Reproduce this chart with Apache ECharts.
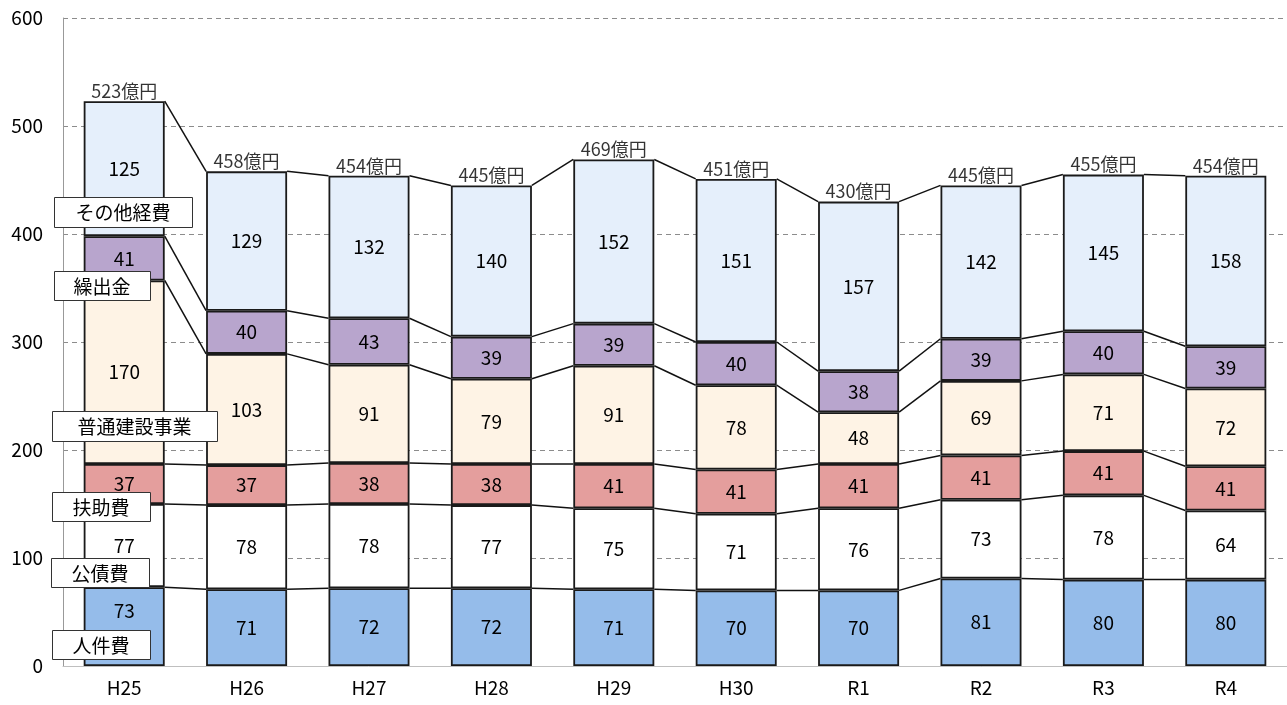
<!DOCTYPE html>
<html>
<head>
<meta charset="utf-8">
<script src="https://cdn.jsdelivr.net/npm/echarts@6/dist/echarts.min.js"></script>
<style>
  html, body { margin: 0; padding: 0; background: #fff; }
  #main { width: 1287px; height: 705px; }
</style>
</head>
<body>
<div id="main"></div>
<script>
var years = ['H25', 'H26', 'H27', 'H28', 'H29', 'H30', 'R1', 'R2', 'R3', 'R4'];
var names = ['人件費', '公債費', '扶助費', '普通建設事業', '繰出金', 'その他経費'];
var jinkenhi  = [73, 71, 72, 72, 71, 70, 70, 81, 80, 80];
var kosaihi   = [77, 78, 78, 77, 75, 71, 76, 73, 78, 64];
var fujohi    = [37, 37, 38, 38, 41, 41, 41, 41, 41, 41];
var kensetsu  = [170, 103, 91, 79, 91, 78, 48, 69, 71, 72];
var kuridashi = [41, 40, 43, 39, 39, 40, 38, 39, 40, 39];
var sonota    = [125, 129, 132, 140, 152, 151, 157, 142, 145, 158];
var totals    = [523, 458, 454, 445, 469, 451, 430, 445, 455, 454];
var colors = ['#95bcea', '#ffffff', '#e49e9d', '#fef3e5', '#b8a5cd', '#e5effb'];

var FONT = '"Noto Sans CJK JP", "Noto Sans", sans-serif';
var BAR_W = 81;
var values = [jinkenhi, kosaihi, fujohi, kensetsu, kuridashi, sonota];

var chart = echarts.init(document.getElementById('main'), null, {renderer: 'canvas'});

var series = values.map(function (arr, k) {
  var data = arr.map(function (v, i) {
    // H25 の人件費ラベルは項目名ボックスを避けて少し上
    if (k === 0 && i === 0) return { value: v, label: { offset: [0, -16] } };
    return v;
  });
  return {
    name: names[k],
    type: 'bar',
    stack: 'total',
    barWidth: BAR_W,
    data: data,
    z: 3,
    itemStyle: { color: colors[k], borderColor: '#1a1a1a', borderWidth: 1.8 },
    label: { show: true, position: 'inside', color: '#000', fontSize: 19, fontFamily: FONT }
  };
});

// 棒の間の接続線
series.push({
  type: 'custom',
  z: 2,
  silent: true,
  data: years.slice(0, years.length - 1).map(function (y, i) { return [i]; }),
  renderItem: function (params, api) {
    var i = api.value(0);
    var cA = 0, cB = 0, kids = [];
    for (var k = 0; k < values.length; k++) {
      cA += values[k][i];
      cB += values[k][i + 1];
      var p1 = api.coord([i, cA]);
      var p2 = api.coord([i + 1, cB]);
      kids.push({
        type: 'line',
        shape: { x1: p1[0] + BAR_W / 2, y1: p1[1], x2: p2[0] - BAR_W / 2, y2: p2[1] },
        style: { stroke: '#111', lineWidth: 1.5 }
      });
    }
    return { type: 'group', children: kids };
  }
});

// 合計ラベル
series.push({
  type: 'scatter',
  data: totals,
  symbolSize: 0,
  silent: true,
  label: {
    show: true, position: 'top', distance: 1, color: '#000', fontSize: 18, fontFamily: FONT,
    formatter: function (p) { return p.value + '億円'; }
  }
});

// H25 上の項目名ボックス
var boxes = [
  { n: 5, x: 54, y: 197, w: 138, h: 30 },
  { n: 4, x: 54, y: 271, w: 96, h: 29 },
  { n: 3, x: 52, y: 411, w: 165, h: 30 },
  { n: 2, x: 52, y: 492, w: 98, h: 29 },
  { n: 1, x: 51, y: 558, w: 98, h: 29 },
  { n: 0, x: 52, y: 630, w: 98, h: 29 }
];
var graphic = [];
boxes.forEach(function (b) {
  graphic.push({
    type: 'rect', left: b.x, top: b.y, z: 100, zlevel: 1,
    shape: { width: b.w, height: b.h },
    style: { fill: '#fff', stroke: '#333', lineWidth: 1 }
  });
  graphic.push({
    type: 'text', x: b.x + b.w / 2, y: b.y + b.h / 2 + 1, z: 101, zlevel: 1,
    style: { text: names[b.n], fill: '#000', font: '19px ' + FONT, align: 'center', verticalAlign: 'middle' }
  });
});

chart.setOption({
  animation: false,
  grid: { left: 63, top: 18, width: 1250, height: 648 },
  xAxis: {
    type: 'category',
    data: years,
    axisLine: { lineStyle: { color: '#bfbfbf' } },
    axisTick: { show: false },
    axisLabel: { color: '#000', fontSize: 19, fontFamily: FONT, margin: 12 }
  },
  yAxis: {
    type: 'value',
    min: 0, max: 600, interval: 100,
    axisLine: { show: true, lineStyle: { color: '#999' } },
    axisTick: { show: false },
    axisLabel: { color: '#000', fontSize: 19, fontFamily: FONT, margin: 20 },
    splitLine: { lineStyle: { color: '#8c8c8c', type: [5, 4] } }
  },
  series: series,
  graphic: { elements: graphic }
});
</script>
</body>
</html>
